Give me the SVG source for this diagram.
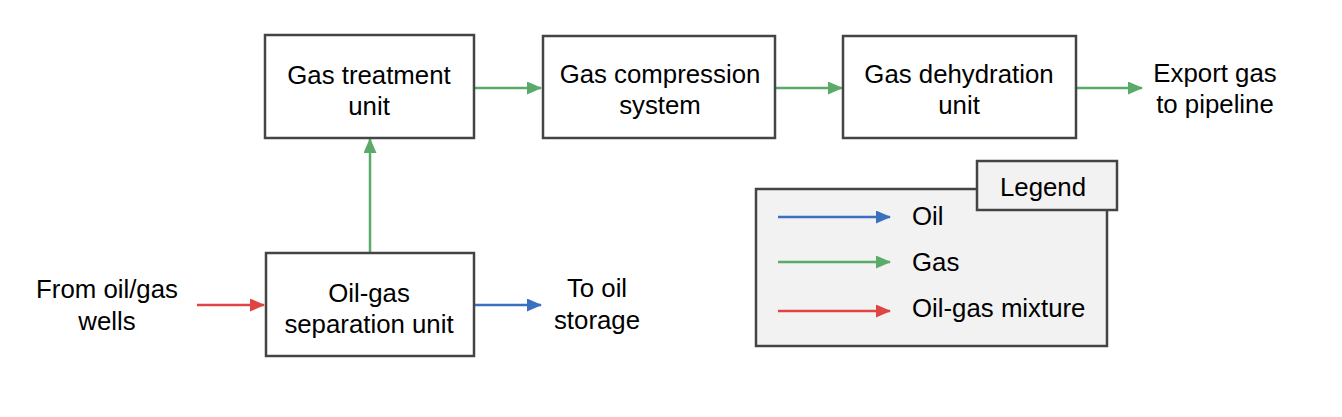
<svg xmlns="http://www.w3.org/2000/svg" width="1342" height="417" viewBox="0 0 1342 417">
<style>
text{font-family:"Liberation Sans",Arial,sans-serif;font-size:25.8px;fill:#000;text-anchor:middle}
.box{fill:#fff;stroke:#444;stroke-width:2.5}
.leg{fill:#f2f2f2;stroke:#444;stroke-width:2.5}
.g{stroke:#5aaa6a;stroke-width:2.5;fill:none}
.b{stroke:#3b70c0;stroke-width:2.5;fill:none}
.r{stroke:#e04545;stroke-width:2.5;fill:none}
.l{text-anchor:start}
</style>
<defs>
<marker id="ag" markerWidth="15" markerHeight="13" refX="14" refY="6.5" orient="auto" markerUnits="userSpaceOnUse"><path d="M0,0 L15,6.5 L0,13 z" fill="#5aaa6a"/></marker>
<marker id="ab" markerWidth="15" markerHeight="13" refX="14" refY="6.5" orient="auto" markerUnits="userSpaceOnUse"><path d="M0,0 L15,6.5 L0,13 z" fill="#3b70c0"/></marker>
<marker id="ar" markerWidth="15" markerHeight="13" refX="14" refY="6.5" orient="auto" markerUnits="userSpaceOnUse"><path d="M0,0 L15,6.5 L0,13 z" fill="#e04545"/></marker>
</defs>
<g id="connectors">
<line class="g" x1="475" y1="88" x2="541" y2="88" marker-end="url(#ag)"/>
<line class="g" x1="776" y1="88" x2="842" y2="88" marker-end="url(#ag)"/>
<line class="g" x1="1077" y1="88" x2="1142" y2="88" marker-end="url(#ag)"/>
<line class="g" x1="370" y1="253" x2="370" y2="139" marker-end="url(#ag)"/>
<line class="r" x1="197" y1="305" x2="264" y2="305" marker-end="url(#ar)"/>
<line class="b" x1="475" y1="305" x2="541" y2="305" marker-end="url(#ab)"/>
</g>
<g id="n-treatment"><rect class="box" x="265" y="35" width="209" height="103"/><text x="369" y="84">Gas treatment</text><text x="369" y="115">unit</text></g>
<g id="n-compression"><rect class="box" x="543" y="36" width="232" height="102"/><text x="660" y="83">Gas compression</text><text x="660" y="114">system</text></g>
<g id="n-dehydration"><rect class="box" x="843" y="36" width="233" height="102"/><text x="959" y="83">Gas dehydration</text><text x="959" y="114">unit</text></g>
<g id="n-separation"><rect class="box" x="266" y="253" width="208" height="103"/><text x="369" y="302">Oil-gas</text><text x="369" y="333">separation unit</text></g>
<g id="t-wells"><text x="107" y="298">From oil/gas</text><text x="107" y="330">wells</text></g>
<g id="t-storage"><text x="597" y="297">To oil</text><text x="597" y="329">storage</text></g>
<g id="t-export"><text x="1215" y="82">Export gas</text><text x="1215" y="113">to pipeline</text></g>
<g id="legend">
<rect class="leg" x="756" y="189" width="351" height="157"/>
<rect class="leg" x="977" y="161" width="140" height="49"/>
<text x="1043" y="196">Legend</text>
<line class="b" x1="778" y1="217" x2="890" y2="217" marker-end="url(#ab)"/>
<line class="g" x1="778" y1="262" x2="890" y2="262" marker-end="url(#ag)"/>
<line class="r" x1="778" y1="311" x2="890" y2="311" marker-end="url(#ar)"/>
<text class="l" x="912" y="225">Oil</text>
<text class="l" x="912" y="271">Gas</text>
<text class="l" x="912" y="317">Oil-gas mixture</text>
</g>
</svg>
